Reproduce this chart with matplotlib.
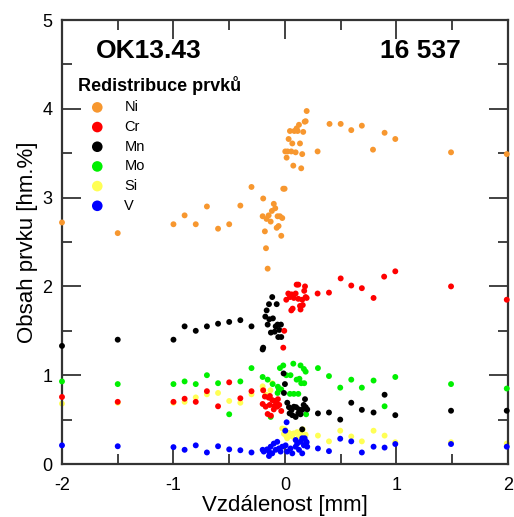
import matplotlib
matplotlib.use("Agg")
import matplotlib.pyplot as plt
from matplotlib.ticker import MultipleLocator

plt.rcParams['font.family'] = ['Liberation Sans', 'DejaVu Sans']
plt.rcParams['axes.unicode_minus'] = False

# Distance from the interface [mm] and element content [wt.%]
ni_x = [-2.0, -1.5, -1.0, -0.9, -0.8, -0.7, -0.6, -0.5, -0.4, -0.3,
        -0.195, -0.20, -0.18, -0.17, -0.155, -0.165, -0.146, -0.128, -0.117, -0.10,
        -0.087, -0.066, -0.045, -0.024, -0.057, -0.074, -0.033, -0.015, -0.003,
        0.195, 0.177, 0.186, 0.126, 0.105, 0.084, 0.114, 0.045, 0.164, 0.033,
        0.066, 0.135, 0.003, 0.024, 0.057, 0.096, 0.155, 0.015, 0.075, 0.146,
        0.293, 0.40, 0.50, 0.595, 0.69, 0.79, 0.894, 0.99, 1.49, 1.99]
ni_y = [2.72, 2.60, 2.70, 2.80, 2.70, 2.90, 2.65, 2.70, 2.91, 3.12,
        2.99, 2.79, 2.62, 2.43, 2.20, 2.76, 2.80, 2.73, 2.85, 2.93,
        2.88, 2.79, 2.79, 2.77, 2.68, 2.66, 2.57, 3.10, 3.10,
        3.975, 3.855, 3.86, 3.82, 3.78, 3.75, 3.75, 3.75, 3.74, 3.66,
        3.61, 3.61, 3.52, 3.52, 3.52, 3.51, 3.49, 3.45, 3.36, 3.33,
        3.52, 3.83, 3.83, 3.76, 3.81, 3.54, 3.73, 3.66, 3.51, 3.49]

cr_x = [-2.0, -1.5, -1.0, -0.9, -0.8, -0.7, -0.6, -0.5, -0.4, -0.3,
        -0.195, -0.20, -0.146, -0.135, -0.114, -0.09, -0.078, -0.063, -0.051, -0.096,
        -0.137, -0.155, -0.126, -0.033, -0.10, -0.173, -0.069, -0.18,
        -0.006, -0.015,
        0.105, 0.12, 0.18, 0.173, 0.195, 0.155, 0.135, 0.14, 0.03, 0.06,
        0.096, 0.012, 0.045, 0.08, 0.12, 0.186, 0.069, 0.057, 0.16,
        0.293, 0.395, 0.50, 0.595, 0.69, 0.795, 0.89, 0.99, 1.49, 1.99]
cr_y = [0.755, 0.70, 0.70, 0.735, 0.70, 0.82, 0.65, 0.92, 0.74, 0.82,
        0.83, 0.676, 0.747, 0.766, 0.72, 0.71, 0.695, 0.73, 0.665, 0.653,
        0.665, 0.563, 0.544, 0.597, 0.615, 0.646, 0.646, 0.76,
        1.50, 1.31,
        2.02, 2.02, 2.00, 1.95, 1.87, 1.85, 1.78, 1.74, 1.92, 1.91,
        1.92, 1.85, 1.88, 1.87, 1.86, 1.88, 1.75, 1.73, 1.79,
        1.92, 1.93, 2.09, 2.01, 1.98, 1.87, 2.11, 2.17, 2.00, 1.85]

mn_x = [-2.0, -1.5, -1.0, -0.9, -0.8, -0.7, -0.6, -0.5, -0.4, -0.3,
        -0.114, -0.143, -0.074, -0.164, -0.176, -0.14, -0.108, -0.155, -0.083, -0.066,
        -0.036, -0.051, -0.092, -0.126, -0.06, -0.033, -0.195, -0.20,
        -0.012, 0.0, -0.009, 0.021, 0.036, 0.06, 0.08, 0.10, 0.126, 0.12,
        0.155, 0.18, 0.186, 0.20, 0.066, 0.096, 0.042, 0.155, 0.14, 0.168,
        0.296, 0.395, 0.496, 0.595, 0.69, 0.795, 0.894, 0.99, 1.49, 1.99]
mn_y = [1.33, 1.40, 1.40, 1.55, 1.50, 1.55, 1.58, 1.60, 1.62, 1.55,
        1.88, 1.80, 1.80, 1.73, 1.66, 1.63, 1.64, 1.57, 1.55, 1.57,
        1.57, 1.51, 1.49, 1.48, 1.43, 1.43, 1.31, 1.29,
        1.02, 0.90, 0.80, 0.69, 0.64, 0.61, 0.645, 0.64, 0.615, 0.57,
        0.61, 0.73, 0.64, 0.615, 0.55, 0.53, 0.57, 0.39, 0.56, 0.665,
        0.57, 0.58, 0.50, 0.69, 0.61, 0.58, 0.78, 0.55, 0.60, 0.60]

mo_x = [-2.0, -1.5, -1.0, -0.9, -0.8, -0.7, -0.6, -0.5, -0.4, -0.3,
        -0.20, -0.155, -0.11, -0.045, -0.015, -0.033, -0.054, -0.066, -0.063, -0.128,
        0.075, 0.14, 0.17, 0.186, 0.012, 0.05, 0.105, 0.13, 0.146, 0.173,
        0.045, 0.08, 0.12, 0.19,
        0.296, 0.395, 0.496, 0.595, 0.69, 0.795, 0.894, 0.99, 1.49, 1.99]
mo_y = [0.93, 0.90, 0.90, 0.93, 0.90, 1.00, 0.91, 0.56, 0.93, 1.08,
        0.98, 0.95, 0.90, 1.08, 1.11, 0.84, 0.84, 0.80, 0.87, 0.53,
        1.13, 1.11, 1.07, 1.04, 1.00, 1.00, 0.95, 0.96, 0.91, 0.91,
        0.79, 0.79, 0.79, 0.56,
        1.08, 0.99, 0.86, 0.95, 0.86, 0.94, 0.65, 0.98, 0.90, 0.85]

si_x = [-2.0, -1.5, -1.0, -0.9, -0.8, -0.7, -0.6, -0.5, -0.4, -0.3,
        -0.20, -0.197, -0.17, -0.114, -0.13,
        -0.024, 0.0, -0.009, 0.012, 0.036, 0.05, 0.072, 0.08, 0.11, 0.126,
        0.14, 0.16, 0.186, 0.02, 0.066,
        0.296, 0.395, 0.496, 0.595, 0.69, 0.795, 0.894, 0.99, 1.49, 1.99]
si_y = [0.68, 0.69, 0.69, 0.70, 0.75, 0.785, 0.80, 0.71, 0.69, 0.785,
        0.875, 0.84, 0.78, 0.91, 0.83,
        0.40, 0.39, 0.34, 0.315, 0.35, 0.33, 0.34, 0.345, 0.36, 0.31,
        0.345, 0.39, 0.33, 0.29, 0.31,
        0.32, 0.255, 0.375, 0.31, 0.255, 0.375, 0.32, 0.245, 0.245, 0.23]

v_x = [-2.0, -1.5, -1.0, -0.9, -0.8, -0.7, -0.6, -0.5, -0.4, -0.3,
       -0.20, -0.19, -0.16, -0.143, -0.114, -0.128, -0.10, -0.069, -0.083, -0.054,
       -0.039, -0.024, 0.006, -0.143, 0.02, 0.05, 0.066, 0.096, 0.11, 0.126,
       0.14, 0.155, 0.17, 0.19, 0.20, 0.015, 0.003, 0.096, 0.155, 0.177, 0.195,
       0.296, 0.395, 0.496, 0.595, 0.69, 0.795, 0.894, 0.99, 1.49, 1.99]
v_y = [0.21, 0.20, 0.19, 0.16, 0.21, 0.13, 0.20, 0.165, 0.155, 0.13,
       0.16, 0.14, 0.165, 0.14, 0.12, 0.195, 0.23, 0.25, 0.16, 0.175,
       0.14, 0.195, 0.21, 0.09, 0.14, 0.175, 0.12, 0.195, 0.23, 0.16,
       0.25, 0.12, 0.21, 0.25, 0.195, 0.47, 0.375, 0.27, 0.29, 0.29, 0.245,
       0.175, 0.145, 0.285, 0.255, 0.13, 0.195, 0.185, 0.225, 0.225, 0.195]

series = [
    ("Ni", ni_x, ni_y, "#F7972F", 3),
    ("Cr", cr_x, cr_y, "#FF0000", 6),
    ("Mn", mn_x, mn_y, "#000000", 5),
    ("Mo", mo_x, mo_y, "#00F000", 4),
    ("Si", si_x, si_y, "#FFFF55", 2),
    ("V", v_x, v_y, "#0000FF", 7),
]

fig = plt.figure(figsize=(5.14, 5.17), dpi=100)
ax = fig.add_axes([0.1206, 0.1025, 0.8675, 0.8588])

for name, xs, ys, color, z in series:
    ax.scatter(xs, ys, s=18, color=color, edgecolors='none', label=name,
               zorder=z, clip_on=False)

ax.set_xlim(-2, 2)
ax.set_ylim(0, 5)
ax.xaxis.set_major_locator(MultipleLocator(1))
ax.xaxis.set_minor_locator(MultipleLocator(0.5))
ax.yaxis.set_major_locator(MultipleLocator(1))
ax.yaxis.set_minor_locator(MultipleLocator(0.5))
ax.tick_params(which='both', direction='in', top=True, right=True,
               labelsize=13, width=1.2, color='#222222')
ax.tick_params(axis='x', pad=9)
ax.tick_params(axis='y', pad=7)
ax.tick_params(which='major', length=14)
ax.tick_params(which='minor', length=7)
for sp in ax.spines.values():
    sp.set_linewidth(1.6)
    sp.set_color('#333333')

ax.set_xlabel("Vzdálenost [mm]", fontsize=16, labelpad=1)
ax.set_ylabel("Obsah prvku [hm.%]", fontsize=16, labelpad=3)

ax.text(0.075, 0.93, "OK13.43", transform=ax.transAxes, fontsize=19,
        fontweight='bold', va='center', ha='left')
ax.text(0.895, 0.93, "16 537", transform=ax.transAxes, fontsize=19,
        fontweight='bold', va='center', ha='right')

leg = ax.legend(loc='upper left', bbox_to_anchor=(0.035, 0.875), frameon=False,
                title="Redistribuce prvků", alignment='left', fontsize=10.5,
                title_fontproperties={'weight': 'bold', 'size': 13},
                markerscale=1.8, handlelength=2.7, handletextpad=0.5,
                labelspacing=0.39, borderaxespad=0, borderpad=0)

fig.savefig("out.png", dpi=100)
